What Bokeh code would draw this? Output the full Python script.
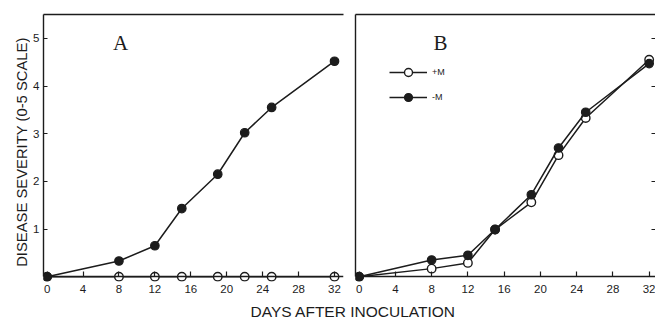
from bokeh.plotting import figure
from bokeh.models import Range1d, FixedTicker, LinearAxis, Label, Legend, LegendItem
from bokeh.layouts import column, row
from bokeh.embed import file_html
from bokeh.resources import INLINE

# ---- data ----
days = [0, 8, 12, 15, 19, 22, 25, 32]
a_minus_m = [0.0, 0.33, 0.65, 1.43, 2.15, 3.02, 3.55, 4.52]
a_plus_m = [0.0, 0.0, 0.0, 0.0, 0.0, 0.0, 0.0, 0.0]
b_plus_m = [0.0, 0.17, 0.29, 0.99, 1.56, 2.55, 3.33, 4.55]
b_minus_m = [0.0, 0.35, 0.45, 0.99, 1.72, 2.70, 3.45, 4.47]
x_ticks = [0, 4, 8, 12, 16, 20, 24, 28, 32]
y_ticks = [1, 2, 3, 4, 5]
y_label = "DISEASE  SEVERITY  (0-5 SCALE)"
x_label = "DAYS  AFTER  INOCULATION"
legend_labels = ["+M", "-M"]

INK = "#1c1c1c"
SANS = "Liberation Sans"
SERIF = "Liberation Serif"
LABEL_W = 30
Y_RANGE = (-0.1, 5.5)


def strip_fig(width, height, **kw):
    p = figure(width=width, height=height, x_range=Range1d(0, 1), y_range=Range1d(*Y_RANGE),
               x_axis_location=None, y_axis_location=None,
               toolbar_location=None, output_backend="svg", **kw)
    p.outline_line_color = None
    p.xgrid.grid_line_color = None
    p.ygrid.grid_line_color = None
    return p


def base_fig(width, x_range, min_left, min_right):
    p = figure(width=width, height=303, x_range=x_range, y_range=Range1d(*Y_RANGE),
               x_axis_location=None, y_axis_location=None,
               toolbar_location=None, output_backend="svg",
               min_border_left=min_left, min_border_right=min_right,
               min_border_top=14, min_border_bottom=22)
    p.outline_line_color = None
    p.xgrid.grid_line_color = None
    p.ygrid.grid_line_color = None

    # axis line + inward ticks at y = 0 (ticks as minor ticks: no label texts)
    xa = LinearAxis(fixed_location=0, ticker=FixedTicker(ticks=[], minor_ticks=x_ticks),
                    bounds=(x_range.start, x_range.end),
                    major_tick_in=0, major_tick_out=0, minor_tick_in=5, minor_tick_out=0,
                    axis_line_color=INK, axis_line_width=1.4,
                    minor_tick_line_color=INK, minor_tick_line_width=1.2)
    p.add_layout(xa, "below")
    # tick labels only, below the frame
    xl = LinearAxis(ticker=FixedTicker(ticks=x_ticks), major_tick_in=0, major_tick_out=0,
                    minor_tick_in=0, minor_tick_out=0, axis_line_color=None,
                    major_label_standoff=3, major_label_text_font=SANS,
                    major_label_text_font_size="11.5px", major_label_text_color=INK)
    p.add_layout(xl, "below")

    top = LinearAxis(ticker=FixedTicker(ticks=[]), major_tick_in=0, major_tick_out=0,
                     minor_tick_in=0, minor_tick_out=0,
                     axis_line_color=INK, axis_line_width=1.4)
    p.add_layout(top, "above")
    return p


def draw_series(p, y_open, y_filled):
    lo = p.line(days, y_open, line_color=INK, line_width=1.5)
    so = p.scatter(days, y_open, size=8.5, marker="circle", fill_color="white",
                   line_color=INK, line_width=1.4)
    lf = p.line(days, y_filled, line_color=INK, line_width=1.5)
    sf = p.scatter(days, y_filled, size=8.5, marker="circle", fill_color=INK,
                   line_color=INK, line_width=1.2)
    return (lo, so), (lf, sf)


# ---- y-axis title strip (same frame as panels; title centred on axis bounds) ----
pL = strip_fig(LABEL_W, 303, min_border_left=LABEL_W - 1, min_border_right=0,
               min_border_top=14, min_border_bottom=22)
yl = LinearAxis(ticker=FixedTicker(ticks=[]), bounds=(0.45, 5.5),
                major_tick_in=0, major_tick_out=0, minor_tick_in=0, minor_tick_out=0,
                axis_line_color=None, axis_label=y_label, axis_label_standoff=0,
                axis_label_text_font=SANS, axis_label_text_font_size="14.8px",
                axis_label_text_font_style="normal", axis_label_text_color=INK)
pL.add_layout(yl, "left")

# ---- panel A ----
pA = base_fig(347 - LABEL_W, Range1d(-0.4, 33.0), 43 - LABEL_W, 4)
ya = LinearAxis(ticker=FixedTicker(ticks=y_ticks), bounds=(0, 5.5),
                major_tick_in=4, major_tick_out=0, minor_tick_in=0, minor_tick_out=0,
                major_label_standoff=4, major_label_text_font=SANS,
                major_label_text_font_size="11.5px", major_label_text_color=INK,
                axis_line_color=INK, axis_line_width=1.4,
                major_tick_line_color=INK, major_tick_line_width=1.2)
pA.add_layout(ya, "left")
draw_series(pA, a_plus_m, a_minus_m)
pA.add_layout(Label(x=77, y=239, x_units="screen", y_units="screen", text="A",
                    text_font=SERIF, text_font_size="21px", text_color=INK,
                    text_align="center", text_baseline="middle"))

# ---- panel B ----
pB = base_fig(308, Range1d(-0.4, 32.7), 8, 0)
yb = LinearAxis(ticker=FixedTicker(ticks=[]), bounds=(0, 5.5),
                major_tick_in=0, major_tick_out=0, minor_tick_in=0, minor_tick_out=0,
                axis_line_color=INK, axis_line_width=1.4)
pB.add_layout(yb, "left")
yr = LinearAxis(ticker=FixedTicker(ticks=[], minor_ticks=y_ticks),
                major_tick_in=0, major_tick_out=0, minor_tick_in=4, minor_tick_out=0,
                axis_line_color=None,
                minor_tick_line_color=INK, minor_tick_line_width=1.2)
pB.add_layout(yr, "right")
(rl_o, rs_o), (rl_f, rs_f) = draw_series(pB, b_plus_m, b_minus_m)
pB.add_layout(Label(x=85, y=239, x_units="screen", y_units="screen", text="B",
                    text_font=SERIF, text_font_size="21px", text_color=INK,
                    text_align="center", text_baseline="middle"))
leg = Legend(items=[LegendItem(label=legend_labels[0], renderers=[rl_o, rs_o]),
                    LegendItem(label=legend_labels[1], renderers=[rl_f, rs_f])],
             location=(34, 174), glyph_width=38, glyph_height=20, label_height=20,
             spacing=5, padding=0, margin=0, label_standoff=5,
             label_text_font=SANS, label_text_font_size="9px", label_text_color=INK,
             border_line_color=None, background_fill_alpha=0)
pB.add_layout(leg)

# ---- shared x-axis title ----
p3 = strip_fig(655, 18, min_border=0)
p3.add_layout(Label(x=357, y=10, x_units="screen", y_units="screen", text=x_label,
                    text_font=SANS, text_font_size="15.5px", text_color=INK,
                    text_align="center", text_baseline="middle"))

layout = column(row(pL, pA, pB), p3)
open("out.html", "w").write(file_html(layout, INLINE))
